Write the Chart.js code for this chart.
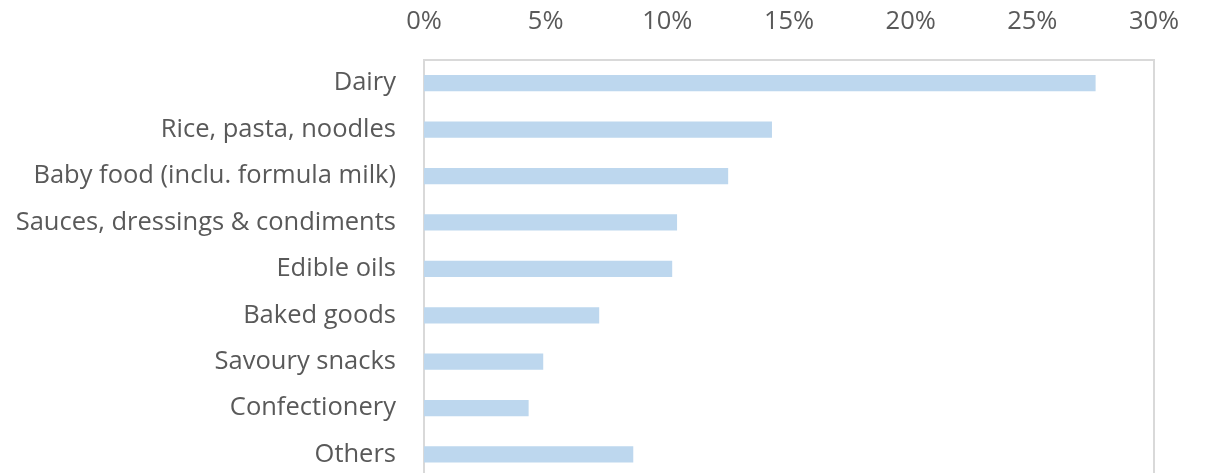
<!DOCTYPE html>
<html>
<head>
<meta charset="utf-8">
<script src="https://cdn.jsdelivr.net/npm/chart.js@4"></script>
<style>
  html, body { margin: 0; padding: 0; background: #fff; overflow: hidden; }
</style>
</head>
<body>
<canvas id="chart" width="1205" height="513"></canvas>
<script>
const categories = [
  "Dairy",
  "Rice, pasta, noodles",
  "Baby food (inclu. formula milk)",
  "Sauces, dressings & condiments",
  "Edible oils",
  "Baked goods",
  "Savoury snacks",
  "Confectionery",
  "Others",
];
const shares = [27.6, 14.3, 12.5, 10.4, 10.2, 7.2, 4.9, 4.3, 8.6];
const xTicks = [0, 5, 10, 15, 20, 25, 30];

Chart.defaults.font.family = "'Open Sans', sans-serif";
Chart.defaults.font.size = 25.5;
Chart.defaults.color = "#595959";

// light grey frame round the plot area, like the Excel original
const plotFrame = {
  id: "plotFrame",
  beforeDatasetsDraw(chart) {
    const { ctx, chartArea } = chart;
    ctx.save();
    ctx.strokeStyle = "#d9d9d9";
    ctx.lineWidth = 2;
    ctx.strokeRect(chartArea.left, chartArea.top, chartArea.right - chartArea.left, chartArea.bottom - chartArea.top);
    ctx.restore();
  },
};

const ctx = document.getElementById("chart").getContext("2d");
new Chart(ctx, {
  type: "bar",
  data: {
    labels: categories,
    datasets: [
      {
        label: "Share",
        data: shares,
        backgroundColor: "#bdd7ee",
        borderWidth: 0,
        categoryPercentage: 1,
        barPercentage: 0.35,
      },
    ],
  },
  options: {
    indexAxis: "y",
    responsive: false,
    animation: false,
    layout: { padding: { left: 0, right: 51, top: 0, bottom: 0 } },
    scales: {
      x: {
        position: "top",
        min: 0,
        max: 30,
        afterBuildTicks: (scale) => {
          scale.ticks = xTicks.map((v) => ({ value: v }));
        },
        afterFit: (scale) => {
          scale.height = 60;
        },
        ticks: {
          padding: 15,
          callback: (v) => v + "%",
        },
        grid: { display: false },
        border: { display: false },
      },
      y: {
        afterFit: (scale) => {
          scale.width = 424;
        },
        ticks: { padding: 20 },
        grid: { display: false },
        border: { display: false },
      },
    },
    plugins: {
      legend: { display: false },
      tooltip: { enabled: false },
    },
  },
  plugins: [plotFrame],
});
</script>
</body>
</html>
